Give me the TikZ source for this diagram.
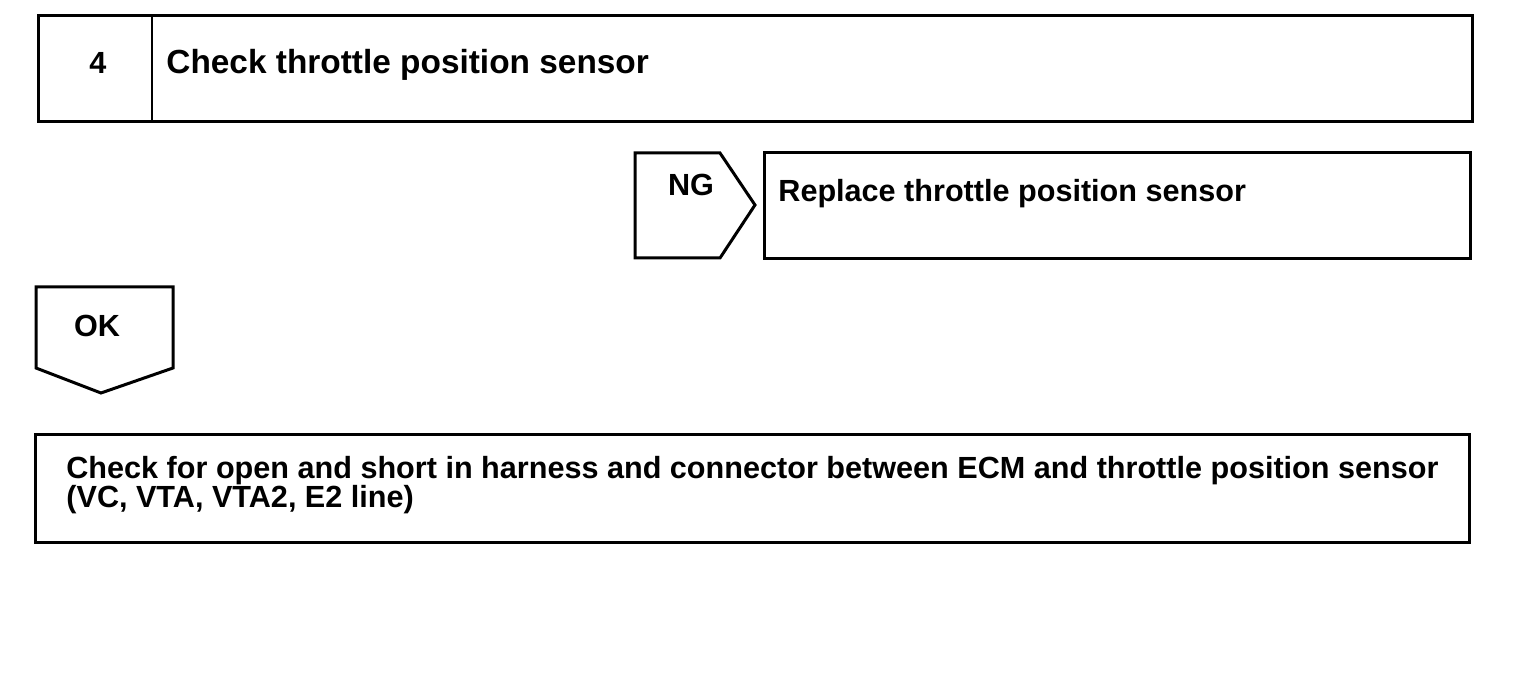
\documentclass[tikz,border=0pt]{standalone}
\usepackage{fontspec}
\setmainfont{Liberation Sans}
\usepackage{tikz}
\usetikzlibrary{positioning}

\begin{document}
\begin{tikzpicture}[x=0.5pt,y=-0.5pt,
	frame/.style={line width=1.5pt, line join=miter},
	lbl/.style={font=\fontsize{15.3}{13}\selectfont\bfseries, inner sep=0pt},
	title/.style={font=\fontsize{16.7}{18}\selectfont\bfseries, inner sep=0pt}]
\useasboundingbox (0,0) rectangle (1520,688);
		\draw[frame] (38,16) rectangle (1472,122);
		\draw[line width=1pt] (152,16) -- (152,122);
\node[lbl, anchor=base] (num) at (98,74) {4};
\node[title, anchor=base west] (check) at (166,74) {Check throttle position sensor};

	\draw[frame] (635,153) -- (720,153) -- (755,205) -- (720,258) -- (635,258) -- cycle;
\node[lbl, anchor=base] (ng) at (691,196) {NG};
	\draw[frame] (764,153) rectangle (1470,259);
\node[lbl, anchor=base west] (replace) at (778,202) {Replace throttle position sensor};

	\draw[frame] (36,287) -- (173,287) -- (173,368) -- (101,393) -- (36,368) -- cycle;
\node[lbl, anchor=base] (ok) at (97,337) {OK};

	\draw[frame] (35,435) rectangle (1469,543);
\node[lbl, anchor=base west] (harness) at (66,479) {Check for open and short in harness and connector between ECM and throttle position sensor};
\node[lbl, anchor=base west] (lines) at (66,508) {(VC, VTA, VTA2, E2 line)};
		\end{tikzpicture}
\end{document}
